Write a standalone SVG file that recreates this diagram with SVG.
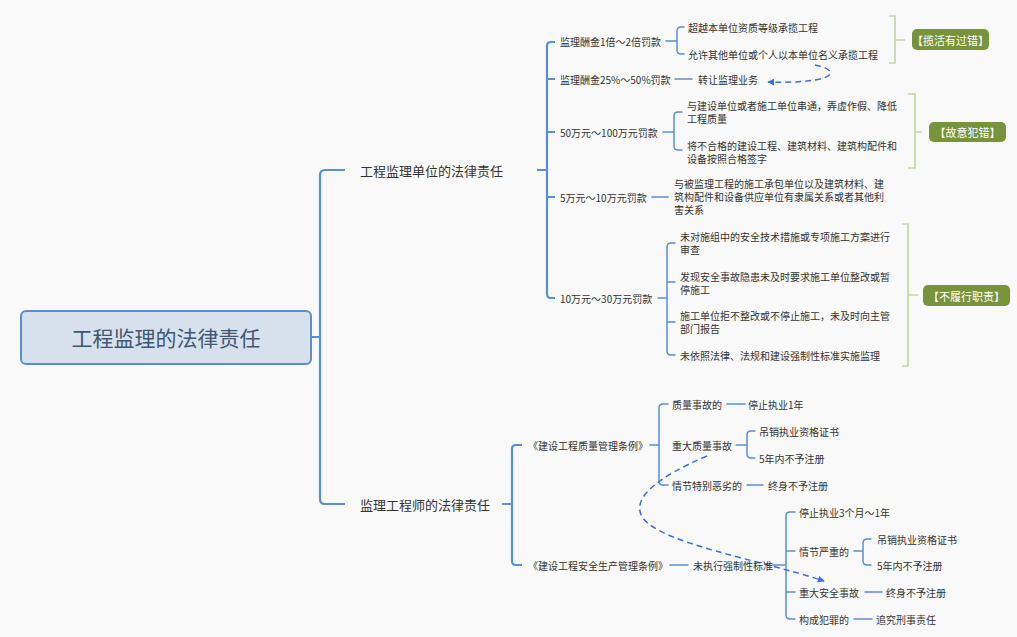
<svg xmlns="http://www.w3.org/2000/svg" width="1017" height="637" viewBox="0 0 1017 637">
<style>
text{font-family:"Microsoft YaHei","Noto Sans CJK SC","Noto Sans",sans-serif;fill:#333;dominant-baseline:central}
.t{font-size:10px}
.l1{font-size:13px}
.root{font-size:21px;fill:#3d5774;text-anchor:middle}
.ln{fill:none;stroke:#5a8fd8;stroke-width:1.5;stroke-linecap:round}
.lm{fill:none;stroke:#5a8fd8;stroke-width:2.2}
.gb{fill:none;stroke:#c4d69e;stroke-width:1.6}
.gl{fill:#77933c}
.gt{font-size:11px;fill:#fff;text-anchor:middle}
.da{fill:none;stroke:#3b6ee6;stroke-width:1.5;stroke-dasharray:6 4}
</style>
<defs>
<marker id="ah" viewBox="0 0 10 10" refX="9" refY="5" markerWidth="7" markerHeight="7" orient="auto" markerUnits="userSpaceOnUse">
<path d="M0,0 L10,5 L0,10 z" fill="#3b6ee6"/>
</marker>
</defs>
<rect width="1017" height="637" fill="#f9f9f9"/>
<g id="connectors">
<path class="lm" d="M311,337 H320 M345,170 H325 Q320,170 320,175 V499 Q320,504 325,504 H345"/>
<path class="lm" d="M537,170 H547 M555,42 H551 Q547,42 547,46 V294 Q547,298 551,298 H555 M547,79 H555 M547,132 H555 M547,197 H555"/>
<path class="lm" d="M502,504 H512 M522,445 H516 Q512,445 512,449 V561 Q512,565 516,565 H522"/>
<path class="ln" d="M666,41 H677 M684,27 H681 Q677,27 677,31 V50 Q677,54 681,54 H684"/>
<path class="ln" d="M675,79 H692"/>
<path class="ln" d="M663,132 H674 M682,112 H678 Q674,112 674,116 V146 Q674,150 678,150 H682"/>
<path class="ln" d="M652,197 H668"/>
<path class="ln" d="M658,298 H667 M675,243 H671 Q667,243 667,247 V351 Q667,355 671,355 H675 M667,282 H675 M667,322 H675"/>
<path class="ln" d="M650,445 H659 M668,404 H663 Q659,404 659,408 V481 Q659,485 663,485 H668"/>
<path class="ln" d="M727,404 H745"/>
<path class="ln" d="M736,445 H747 M755,431 H751 Q747,431 747,435 V454 Q747,458 751,458 H755"/>
<path class="ln" d="M747,485 H763"/>
<path class="ln" d="M670,565 H688"/>
<path class="ln" d="M773,565 H786 M795,512 H790 Q786,512 786,516 V615 Q786,619 790,619 H795 M786,551 H795 M786,592 H795"/>
<path class="ln" d="M854,551 H863 M871,539 H867 Q863,539 863,543 V561 Q863,565 867,565 H871"/>
<path class="ln" d="M865,592 H882"/>
<path class="ln" d="M854,619 H872"/>
<path class="gb" d="M889,16 H895 V63 H889 M895,40 H905"/>
<path class="gb" d="M908,94 H915 V168 H908 M915,132 H922"/>
<path class="gb" d="M902,224 H908 V366 H902 M908,295 H918"/>
<path class="da" marker-end="url(#ah)" d="M815,65 C842,70 838,84 768,82"/>
<path class="da" marker-end="url(#ah)" d="M707,456 C655,478 630,500 643,518 C660,543 760,560 824,581"/>
</g>
<g id="root">
<rect x="21" y="311" width="290" height="53" rx="5" fill="#d7e1ed" stroke="#5a8fd8" stroke-width="2"/>
<text class="root" x="166" y="337">工程监理的法律责任</text>
</g>
<g id="n1"><text class="l1" x="360" y="170">工程监理单位的法律责任</text></g>
<g id="n2"><text class="l1" x="360" y="504">监理工程师的法律责任</text></g>
<g id="n1-1"><text class="t" x="560" y="41">监理酬金1倍～2倍罚款</text></g>
<g id="n1-1-1"><text class="t" x="688" y="27">超越本单位资质等级承揽工程</text></g>
<g id="n1-1-2"><text class="t" x="688" y="54">允许其他单位或个人以本单位名义承揽工程</text></g>
<g id="n1-2"><text class="t" x="560" y="79">监理酬金25%～50%罚款</text></g>
<g id="n1-2-1"><text class="t" x="698" y="79">转让监理业务</text></g>
<g id="n1-3"><text class="t" x="560" y="132">50万元～100万元罚款</text></g>
<g id="n1-3-1"><text class="t" x="687" y="105">与建设单位或者施工单位串通，弄虚作假、降低</text><text class="t" x="687" y="118">工程质量</text></g>
<g id="n1-3-2"><text class="t" x="687" y="145.5">将不合格的建设工程、建筑材料、建筑构配件和</text><text class="t" x="687" y="158.5">设备按照合格签字</text></g>
<g id="n1-4"><text class="t" x="560" y="197">5万元～10万元罚款</text></g>
<g id="n1-4-1"><text class="t" x="674" y="183">与被监理工程的施工承包单位以及建筑材料、建</text><text class="t" x="674" y="196">筑构配件和设备供应单位有隶属关系或者其他利</text><text class="t" x="674" y="209">害关系</text></g>
<g id="n1-5"><text class="t" x="560" y="298">10万元～30万元罚款</text></g>
<g id="n1-5-1"><text class="t" x="680" y="236">未对施组中的安全技术措施或专项施工方案进行</text><text class="t" x="680" y="249">审查</text></g>
<g id="n1-5-2"><text class="t" x="680" y="276">发现安全事故隐患未及时要求施工单位整改或暂</text><text class="t" x="680" y="289">停施工</text></g>
<g id="n1-5-3"><text class="t" x="680" y="315">施工单位拒不整改或不停止施工，未及时向主管</text><text class="t" x="680" y="328">部门报告</text></g>
<g id="n1-5-4"><text class="t" x="680" y="355">未依照法律、法规和建设强制性标准实施监理</text></g>
<g id="s1"><rect class="gl" x="912" y="29" width="77" height="21" rx="5"/><text class="gt" x="950.5" y="40">【揽活有过错】</text></g>
<g id="s2"><rect class="gl" x="929" y="122" width="77" height="20" rx="5"/><text class="gt" x="967.5" y="132">【故意犯错】</text></g>
<g id="s3"><rect class="gl" x="923" y="285" width="87" height="21" rx="5"/><text class="gt" x="966.5" y="295.5">【不履行职责】</text></g>
<g id="n2-1"><text class="t" x="528" y="445">《建设工程质量管理条例》</text></g>
<g id="n2-1-1"><text class="t" x="672" y="404">质量事故的</text></g>
<g id="n2-1-1-1"><text class="t" x="748" y="404">停止执业1年</text></g>
<g id="n2-1-2"><text class="t" x="672" y="445">重大质量事故</text></g>
<g id="n2-1-2-1"><text class="t" x="759" y="431">吊销执业资格证书</text></g>
<g id="n2-1-2-2"><text class="t" x="759" y="458">5年内不予注册</text></g>
<g id="n2-1-3"><text class="t" x="672" y="485">情节特别恶劣的</text></g>
<g id="n2-1-3-1"><text class="t" x="768" y="485">终身不予注册</text></g>
<g id="n2-2"><text class="t" x="528" y="565">《建设工程安全生产管理条例》</text></g>
<g id="n2-2-1"><text class="t" x="693" y="565">未执行强制性标准</text></g>
<g id="n2-2-1-1"><text class="t" x="799" y="512">停止执业3个月～1年</text></g>
<g id="n2-2-1-2"><text class="t" x="799" y="551">情节严重的</text></g>
<g id="n2-2-1-2-1"><text class="t" x="877" y="539">吊销执业资格证书</text></g>
<g id="n2-2-1-2-2"><text class="t" x="877" y="565">5年内不予注册</text></g>
<g id="n2-2-1-3"><text class="t" x="799" y="592">重大安全事故</text></g>
<g id="n2-2-1-3-1"><text class="t" x="886" y="592">终身不予注册</text></g>
<g id="n2-2-1-4"><text class="t" x="799" y="619">构成犯罪的</text></g>
<g id="n2-2-1-4-1"><text class="t" x="876" y="619">追究刑事责任</text></g>
</svg>
